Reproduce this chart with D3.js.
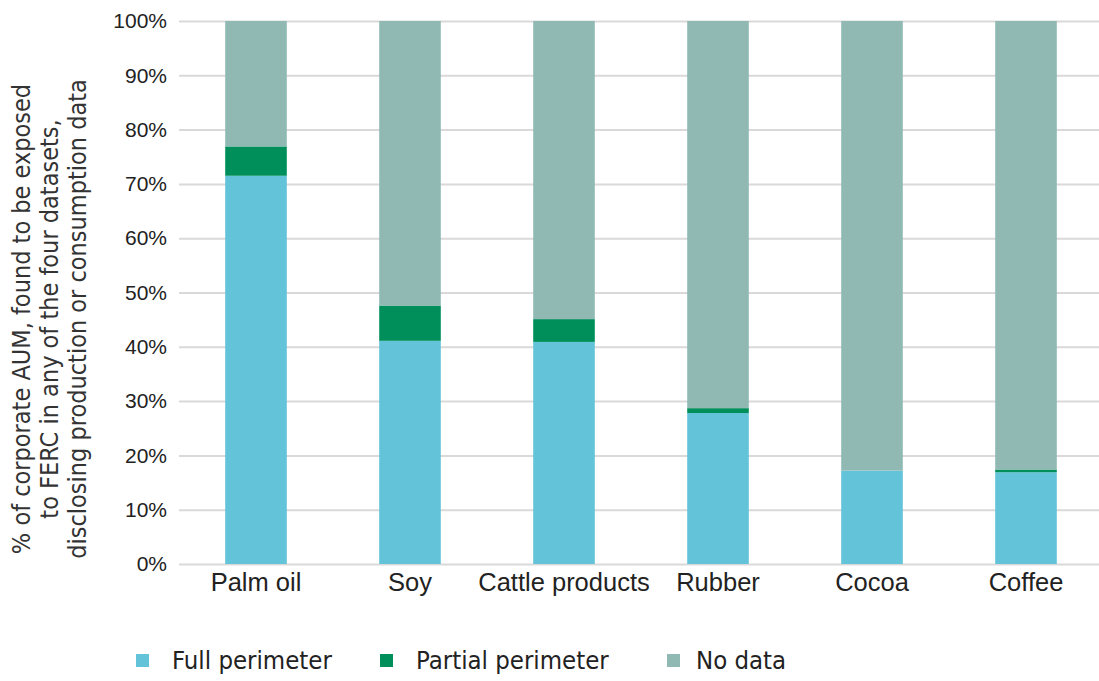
<!DOCTYPE html>
<html>
<head>
<meta charset="utf-8">
<script src="https://cdn.jsdelivr.net/npm/d3@7"></script>
<style>
  body { margin: 0; background: #fff; }
  svg { display: block; font-family: "Liberation Sans Narrow", "DejaVu Sans Condensed", "Roboto", sans-serif; }
</style>
</head>
<body>
<svg></svg>
<script>
// categories and series values (% of corporate AUM)
const commodities = ["Palm oil", "Soy", "Cattle products", "Rubber", "Cocoa", "Coffee"];
const fullPerimeter = [71.5, 41.1, 40.9, 27.8, 17.2, 16.9];
const partialPerimeter = [5.4, 6.5, 4.2, 0.9, 0, 0.5];
const noData = [23.1, 52.4, 54.9, 71.3, 82.8, 82.6];
const seriesNames = ["Full perimeter", "Partial perimeter", "No data"];
const seriesColors = ["#62c3d9", "#008f5a", "#91b9b3"];
const yTicks = [0, 10, 20, 30, 40, 50, 60, 70, 80, 90, 100];

const width = 1099;
const height = 681;
const marginTop = 21;
const marginBottom = 117;
const marginLeft = 179;

// 每行一个品类
const rows = commodities.map((c, i) => ({
  commodity: c,
  "Full perimeter": fullPerimeter[i],
  "Partial perimeter": partialPerimeter[i],
  "No data": noData[i]
}));

const series = d3.stack().keys(seriesNames)(rows);

const x = d3.scaleBand()
    .domain(commodities)
    .range([marginLeft, marginLeft + 154 * commodities.length])
    .paddingInner(0.6)
    .paddingOuter(0.3);

const y = d3.scaleLinear()
    .domain([0, 100])
    .range([height - marginBottom, marginTop]);

const color = d3.scaleOrdinal().domain(seriesNames).range(seriesColors);

const svg = d3.select("svg")
    .attr("width", width)
    .attr("height", height)
    .attr("viewBox", [0, 0, width, height]);

// grid lines + y axis labels
svg.append("g")
    .attr("transform", `translate(${marginLeft},0)`)
    .call(d3.axisLeft(y).tickValues(yTicks).tickFormat(d => d + "%").tickSize(0).tickPadding(12))
    .call(g => g.select(".domain").remove())
    .call(g => g.selectAll(".tick text")
        .attr("font-size", 21)
        .attr("fill", "#222"))
    .call(g => g.selectAll(".tick line").clone()
        .attr("x2", width - marginLeft + 10)
        .attr("stroke", "#d9d9d9")
        .attr("stroke-width", 2));

// stacked bars
svg.append("g")
  .selectAll("g")
  .data(series)
  .join("g")
    .attr("fill", d => color(d.key))
  .selectAll("rect")
  .data(d => d)
  .join("rect")
    .attr("x", d => x(d.data.commodity))
    .attr("y", d => y(d[1]))
    .attr("height", d => y(d[0]) - y(d[1]))
    .attr("width", x.bandwidth());

// x axis labels
svg.append("g")
    .attr("transform", `translate(0,${height - marginBottom})`)
    .call(d3.axisBottom(x).tickSize(0).tickPadding(9))
    .call(g => g.select(".domain").remove())
    .call(g => g.selectAll(".tick text")
        .attr("font-size", 25.5)
        .attr("fill", "#222"));

// y axis title
const titleLines = [
  "% of corporate AUM, found to be exposed",
  "to FERC in any of the four datasets,",
  "disclosing production or consumption data"
];
svg.append("text")
    .attr("transform", "translate(30,319) rotate(-90)")
    .attr("text-anchor", "middle")
    .attr("font-size", 25)
    .attr("fill", "#333")
  .selectAll("tspan")
  .data(titleLines)
  .join("tspan")
    .attr("x", 0)
    .attr("dy", (d, i) => i === 0 ? 0 : 28)
    .text(d => d);

// legend
const legendX = [136, 380, 667];
const legend = svg.append("g")
  .selectAll("g")
  .data(seriesNames)
  .join("g")
    .attr("transform", (d, i) => `translate(${legendX[i]},654)`);

legend.append("rect")
    .attr("width", 13)
    .attr("height", 13)
    .attr("fill", d => color(d));

legend.append("text")
    .attr("x", (d, i) => i === 2 ? 29 : 36)
    .attr("y", 6)
    .attr("dy", "0.35em")
    .attr("font-size", 25.5)
    .attr("fill", "#222")
    .text(d => d);
</script>
</body>
</html>
